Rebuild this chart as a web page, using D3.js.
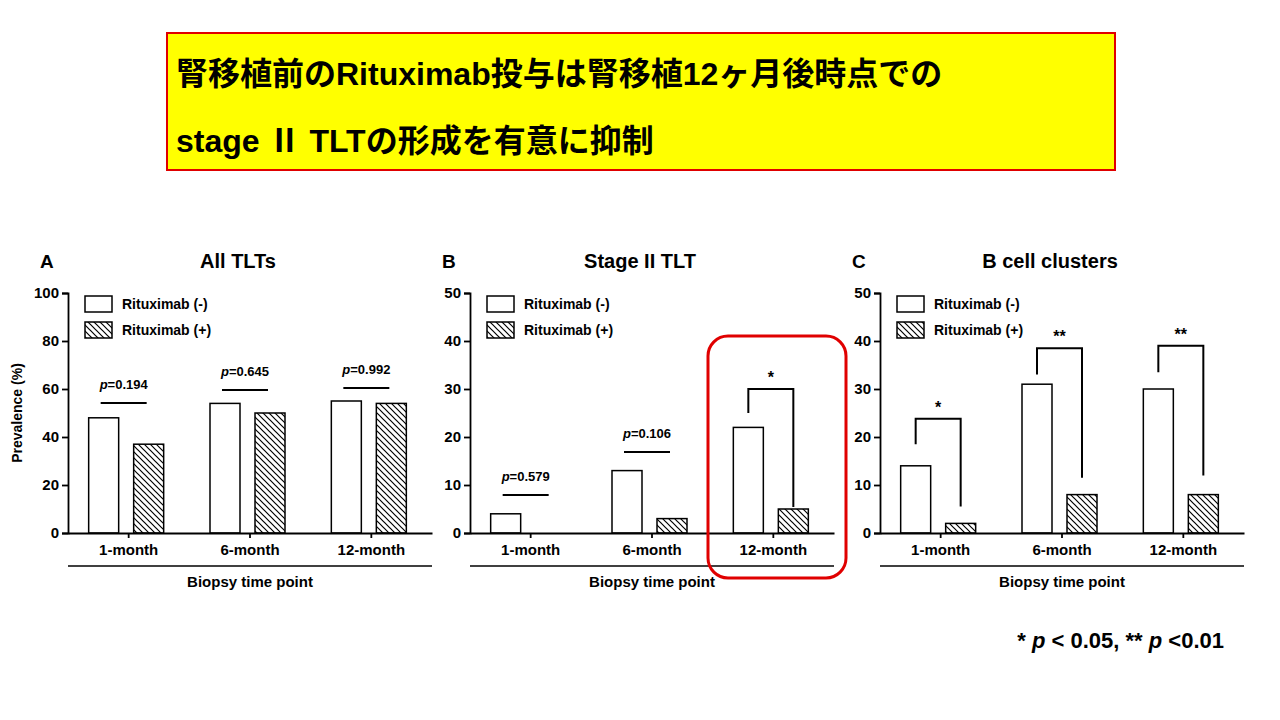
<!DOCTYPE html>
<html lang="ja">
<head>
<meta charset="utf-8">
<title>Rituximab TLT</title>
<script src="https://cdnjs.cloudflare.com/ajax/libs/d3/7.8.5/d3.min.js"></script>
<style>
  body { margin: 0; background: #fff; }
  text { font-family: Arial, "Liberation Sans", "Noto Sans CJK JP", sans-serif; font-weight: bold; }
</style>
</head>
<body>
<svg id="chart" width="1280" height="720"></svg>
<script>
// data
var categories = ["1-month", "6-month", "12-month"];
var seriesNames = ["Rituximab (-)", "Rituximab (+)"];
var allTLT = [[48, 37], [54, 50], [55, 54]];
var stage2 = [[4, 0], [13, 3], [22, 5]];
var bcell = [[14, 2], [31, 8], [30, 8]];
var pA = ["0.194", "0.645", "0.992"];
var pB = ["0.579", "0.106", null];
// brackets: [level, leftLegEnd, rightLegEnd, label]
var sigB = [null, null, [30, 25, 5.4, "*"]];
var sigC = [[23.8, 18.5, 5.5, "*"], [38.5, 33, 11.5, "**"], [39, 33.5, 12, "**"]];
var pLineA = [54.2, 59.6, 60.4];
var pLineB = [7.9, 16.9, null];

var svg = d3.select("#chart");

svg.append("defs").append("pattern")
  .attr("id", "hatch").attr("patternUnits", "userSpaceOnUse")
  .attr("width", 6).attr("height", 6)
  .append("path").attr("d", "M-1,-1 L7,7 M-7,-1 L1,7 M5,-1 L13,7")
  .attr("stroke", "#000").attr("stroke-width", 1.2);

// title box
svg.append("rect").attr("x", 167).attr("y", 33).attr("width", 948).attr("height", 137)
  .attr("fill", "#ffff00").attr("stroke", "#e00000").attr("stroke-width", 2);
svg.append("text").attr("x", 176).attr("y", 85).attr("font-size", 32)
  .text("腎移植前のRituximab投与は腎移植12ヶ月後時点での");
svg.append("text").attr("x", 176).attr("y", 152).attr("font-size", 32)
  .text("stage Ⅱ TLTの形成を有意に抑制");

function panel(cfg) {
  var x0 = cfg.x0, top = 293, bottom = 533, right = x0 + 364;
  var y = d3.scaleLinear().domain([0, cfg.max]).range([bottom, top]);
  var x = d3.scaleBand().domain(categories).range([x0, right]);
  var g = svg.append("g");

  g.append("text").attr("x", x0 - 28).attr("y", 268).attr("font-size", 19).text(cfg.letter);
  g.append("text").attr("x", x0 + 170).attr("y", 268).attr("font-size", 20)
    .attr("text-anchor", "middle").text(cfg.title);

  cfg.data.forEach(function (d, i) {
    var c = x(categories[i]) + x.bandwidth() / 2 - 2;
    g.append("rect").attr("x", c - 38).attr("width", 30)
      .attr("y", y(d[0])).attr("height", bottom - y(d[0]))
      .attr("fill", "#fff").attr("stroke", "#000").attr("stroke-width", 1.5);
    if (d[1] > 0)
      g.append("rect").attr("x", c + 7).attr("width", 30)
        .attr("y", y(d[1])).attr("height", bottom - y(d[1]))
        .attr("fill", "url(#hatch)").attr("stroke", "#000").attr("stroke-width", 1.5);
    if (cfg.pLine && cfg.pLine[i] != null) {
      var ly = y(cfg.pLine[i]);
      g.append("line").attr("x1", c - 26).attr("x2", c + 20).attr("y1", ly).attr("y2", ly)
        .attr("stroke", "#000").attr("stroke-width", 2);
      var t = g.append("text").attr("x", c - 3).attr("y", ly - 14).attr("font-size", 13)
        .attr("text-anchor", "middle");
      t.append("tspan").attr("font-style", "italic").text("p");
      t.append("tspan").text("=" + cfg.p[i]);
    }
    if (cfg.sig && cfg.sig[i]) {
      var s = cfg.sig[i], lx = c - 23, rx = c + 22;
      g.append("path")
        .attr("d", "M" + lx + "," + y(s[1]) + "V" + y(s[0]) + "H" + rx + "V" + y(s[2]))
        .attr("fill", "none").attr("stroke", "#000").attr("stroke-width", 2);
      g.append("text").attr("x", (lx + rx) / 2).attr("y", y(s[0]) - 6).attr("font-size", 16)
        .attr("text-anchor", "middle").text(s[3]);
    }
  });

  var ya = g.append("g").attr("transform", "translate(" + x0 + ",0)")
    .call(d3.axisLeft(y).ticks(5).tickSize(6).tickPadding(3));
  var xa = g.append("g").attr("transform", "translate(0," + bottom + ")")
    .call(d3.axisBottom(x).tickSize(5).tickPadding(6).tickSizeOuter(0));
  [ya, xa].forEach(function (a) {
    a.selectAll("path,line").attr("stroke", "#000").attr("stroke-width", 1.8);
    a.selectAll("text").attr("font-size", 15).attr("font-family", "Arial, 'Liberation Sans', sans-serif")
      .attr("font-weight", "bold").attr("fill", "#000");
  });

  g.append("line").attr("x1", x0).attr("x2", right).attr("y1", 566).attr("y2", 566)
    .attr("stroke", "#000").attr("stroke-width", 1.5);
  g.append("text").attr("x", (x0 + right) / 2).attr("y", 587).attr("font-size", 15)
    .attr("text-anchor", "middle").text("Biopsy time point");

  seriesNames.forEach(function (n, k) {
    var ly = 296 + k * 26;
    g.append("rect").attr("x", x0 + 17).attr("y", ly).attr("width", 27).attr("height", 16)
      .attr("fill", k ? "url(#hatch)" : "#fff").attr("stroke", "#000").attr("stroke-width", 1.5);
    g.append("text").attr("x", x0 + 54).attr("y", ly + 13).attr("font-size", 14).text(n);
  });

  if (cfg.ylabel)
    g.append("text").attr("transform", "translate(" + (x0 - 46) + ",413) rotate(-90)")
      .attr("font-size", 14).attr("text-anchor", "middle").text("Prevalence  (%)");
}

panel({ x0: 68, max: 100, letter: "A", title: "All TLTs", data: allTLT, p: pA, pLine: pLineA, ylabel: true });
panel({ x0: 470, max: 50, letter: "B", title: "Stage II TLT", data: stage2, p: pB, pLine: pLineB, sig: sigB });
panel({ x0: 880, max: 50, letter: "C", title: "B cell clusters", data: bcell, sig: sigC });

// highlight box
svg.append("rect").attr("x", 708).attr("y", 336).attr("width", 138).attr("height", 242)
  .attr("rx", 20).attr("fill", "none").attr("stroke", "#e00000").attr("stroke-width", 3);

var f = svg.append("text").attr("x", 1224).attr("y", 648).attr("font-size", 22).attr("text-anchor", "end");
f.append("tspan").text("* ");
f.append("tspan").attr("font-style", "italic").text("p");
f.append("tspan").text(" < 0.05, ** ");
f.append("tspan").attr("font-style", "italic").text("p");
f.append("tspan").text(" <0.01");
</script>
</body>
</html>
